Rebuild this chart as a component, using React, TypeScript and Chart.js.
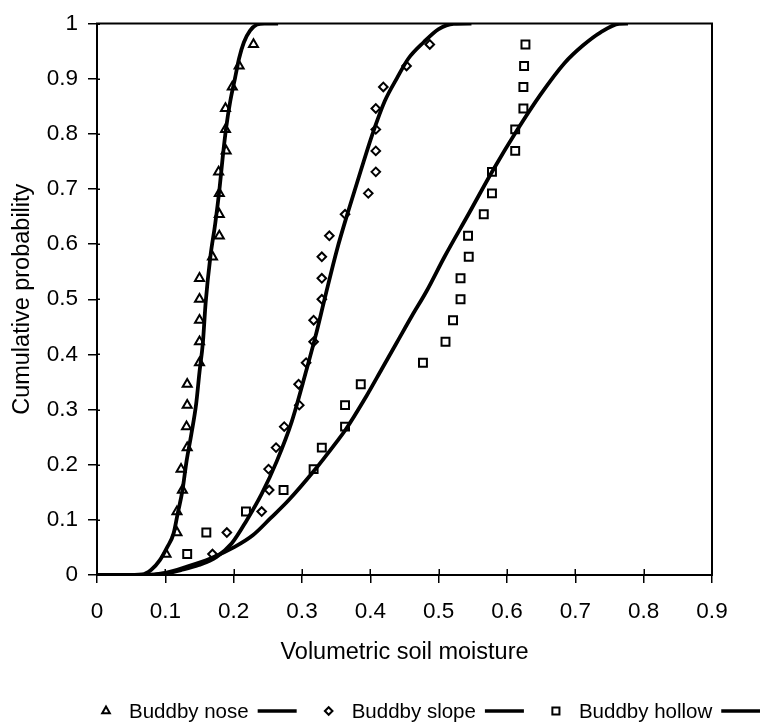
import React, { useEffect, useRef } from 'react';
import { Chart, registerables } from 'chart.js';

Chart.register(...registerables);

const FONT = '"Liberation Sans", Arial, Helvetica, sans-serif';

// ---- axis ticks ----
const xTickValues = [0, 0.1, 0.2, 0.3, 0.4, 0.5, 0.6, 0.7, 0.8, 0.9];
const xTickLabels = ['0', '0.1', '0.2', '0.3', '0.4', '0.5', '0.6', '0.7', '0.8', '0.9'];
const yTickValues = [0, 0.1, 0.2, 0.3, 0.4, 0.5, 0.6, 0.7, 0.8, 0.9, 1];
const yTickLabels = ['0', '0.1', '0.2', '0.3', '0.4', '0.5', '0.6', '0.7', '0.8', '0.9', '1'];

const xTitle = 'Volumetric soil moisture';
const yTitle = 'Cumulative probability';
const seriesNames = ['Buddby nose', 'Buddby slope', 'Buddby hollow'];

// ---- observed points (cumulative probability shared by the three sites) ----
const cumulativeP = [
  0.038, 0.077, 0.115, 0.154, 0.192, 0.231, 0.269, 0.308, 0.346, 0.385, 0.423, 0.462, 0.5,
  0.538, 0.577, 0.615, 0.654, 0.692, 0.731, 0.769, 0.808, 0.846, 0.885, 0.923, 0.962,
];
const noseObs = [
  0.101, 0.117, 0.117, 0.125, 0.123, 0.132, 0.131, 0.132, 0.132, 0.150, 0.150, 0.150, 0.150,
  0.150, 0.169, 0.179, 0.179, 0.179, 0.178, 0.189, 0.188, 0.188, 0.198, 0.208, 0.229,
];
const slopeObs = [
  0.169, 0.190, 0.241, 0.252, 0.251, 0.262, 0.274, 0.296, 0.295, 0.306, 0.317, 0.317, 0.329,
  0.329, 0.329, 0.340, 0.363, 0.397, 0.408, 0.408, 0.408, 0.408, 0.419, 0.453, 0.487,
];
const hollowObs = [
  0.132, 0.160, 0.218, 0.273, 0.317, 0.329, 0.363, 0.363, 0.386, 0.477, 0.510, 0.521, 0.532,
  0.532, 0.544, 0.543, 0.566, 0.578, 0.578, 0.612, 0.612, 0.624, 0.624, 0.625, 0.627,
];

// ---- fitted curves ----
const noseCurveX = [
  0, 0.040, 0.066, 0.079, 0.092, 0.103, 0.112, 0.118, 0.125, 0.131, 0.138, 0.145, 0.150, 0.155,
  0.159, 0.166, 0.173, 0.179, 0.184, 0.189, 0.195, 0.202, 0.208, 0.215, 0.224, 0.234, 0.245, 0.265,
];
const noseCurveP = [
  0, 0, 0.001, 0.009, 0.027, 0.051, 0.075, 0.111, 0.153, 0.206, 0.255, 0.309, 0.368, 0.422,
  0.494, 0.578, 0.637, 0.697, 0.758, 0.811, 0.859, 0.901, 0.937, 0.966, 0.987, 0.998, 1.0, 1.0,
];
const slopeCurveX = [
  0, 0.070, 0.100, 0.123, 0.149, 0.175, 0.197, 0.219, 0.241, 0.263, 0.285, 0.307, 0.320, 0.333,
  0.351, 0.368, 0.386, 0.403, 0.421, 0.439, 0.456, 0.478, 0.500, 0.522, 0.548,
];
const slopeCurveP = [
  0, 0, 0.003, 0.009, 0.018, 0.033, 0.057, 0.099, 0.147, 0.206, 0.278, 0.374, 0.434, 0.500,
  0.589, 0.661, 0.733, 0.799, 0.859, 0.901, 0.937, 0.966, 0.990, 0.9995, 1.0,
];
const hollowCurveX = [
  0, 0.066, 0.100, 0.131, 0.166, 0.2015, 0.228, 0.254, 0.280, 0.317, 0.351, 0.363, 0.395, 0.417,
  0.439, 0.461, 0.482, 0.509, 0.544, 0.579, 0.614, 0.649, 0.684, 0.711, 0.737, 0.764, 0.777,
];
const hollowCurveP = [
  0, 0, 0.004, 0.015, 0.030, 0.051, 0.072, 0.103, 0.135, 0.188, 0.242, 0.262, 0.326, 0.374,
  0.422, 0.470, 0.514, 0.578, 0.655, 0.733, 0.805, 0.871, 0.928, 0.960, 0.984, 0.9995, 1.0,
];

type Marker = 'triangle' | 'rectRot' | 'rect';
const markerStyles: { style: Marker; radius: number; legendRadius: number }[] = [
  { style: 'triangle', radius: 5.2, legendRadius: 4.4 },
  { style: 'rectRot', radius: 4.3, legendRadius: 3.8 },
  { style: 'rect', radius: 5.6, legendRadius: 5.0 },
];

const toPoints = (xs: number[], ys: number[]) => xs.map((x, i) => ({ x, y: ys[i] }));

function drawMarker(ctx: CanvasRenderingContext2D, style: Marker, x: number, y: number, r: number) {
  ctx.beginPath();
  if (style === 'triangle') {
    ctx.moveTo(x, y - r);
    ctx.lineTo(x + 0.866 * r, y + 0.5 * r);
    ctx.lineTo(x - 0.866 * r, y + 0.5 * r);
  } else if (style === 'rectRot') {
    ctx.moveTo(x - r, y);
    ctx.lineTo(x, y - r);
    ctx.lineTo(x + r, y);
    ctx.lineTo(x, y + r);
  } else {
    const s = Math.SQRT1_2 * r;
    ctx.rect(x - s, y - s, 2 * s, 2 * s);
  }
  ctx.closePath();
  ctx.fillStyle = '#fff';
  ctx.fill();
  ctx.lineWidth = 2;
  ctx.strokeStyle = '#000';
  ctx.stroke();
}

const framePlugin = {
  id: 'frameAndInnerTicks',
  afterDraw(chart: any) {
    const { ctx, chartArea } = chart;
    const xs = chart.scales.x;
    const ys = chart.scales.y;
    ctx.save();
    ctx.strokeStyle = '#000';
    ctx.lineWidth = 2;
    ctx.strokeRect(chartArea.left, chartArea.top, chartArea.right - chartArea.left, chartArea.bottom - chartArea.top);
    ctx.lineWidth = 1.5;
    ctx.beginPath();
    xTickValues.forEach((v) => {
      const px = Math.round(xs.getPixelForValue(v)) + 0.25;
      ctx.moveTo(px, chartArea.bottom);
      ctx.lineTo(px, chartArea.bottom - 6);
    });
    yTickValues.forEach((v) => {
      const py = Math.round(ys.getPixelForValue(v)) + 0.25;
      ctx.moveTo(chartArea.left, py);
      ctx.lineTo(chartArea.left + 3, py);
    });
    ctx.stroke();
    ctx.restore();
  },
};

const legendPlugin = {
  id: 'markerTextLineLegend',
  afterDraw(chart: any) {
    const ctx: CanvasRenderingContext2D = chart.ctx;
    ctx.save();
    ctx.font = `20.5px ${FONT}`;
    ctx.textBaseline = 'middle';
    ctx.textAlign = 'left';
    const y = 711;
    let x = 106;
    seriesNames.forEach((name, i) => {
      const m = markerStyles[i];
      drawMarker(ctx, m.style, x, y, m.legendRadius);
      const tx = x + 23;
      ctx.fillStyle = '#000';
      ctx.fillText(name, tx, y + 1);
      const w = ctx.measureText(name).width;
      const l1 = tx + w + 9;
      const l2 = l1 + 39;
      ctx.beginPath();
      ctx.lineWidth = 3.4;
      ctx.strokeStyle = '#000';
      ctx.moveTo(l1, y);
      ctx.lineTo(l2, y);
      ctx.stroke();
      x = l2 + 32;
    });
    ctx.restore();
  },
};

export default function App() {
  const canvasRef = useRef<HTMLCanvasElement>(null);

  useEffect(() => {
    const canvas = canvasRef.current;
    if (!canvas) return;

    const curveDs = (xs: number[], ps: number[], label: string) => ({
      label,
      data: toPoints(xs, ps),
      showLine: true,
      borderColor: '#000',
      borderWidth: 3.8,
      pointRadius: 0,
      pointHoverRadius: 0,
      fill: false,
      cubicInterpolationMode: 'monotone' as const,
    });
    const obsDs = (xs: number[], i: number) => ({
      label: seriesNames[i],
      data: toPoints(xs, cumulativeP),
      showLine: false,
      pointStyle: markerStyles[i].style,
      pointRadius: markerStyles[i].radius,
      pointHoverRadius: markerStyles[i].radius,
      pointBorderWidth: 2,
      pointBackgroundColor: '#fff',
      pointBorderColor: '#000',
      borderColor: '#000',
      backgroundColor: '#fff',
    });

    const chart = new Chart(canvas, {
      type: 'scatter',
      data: {
        datasets: [
          curveDs(noseCurveX, noseCurveP, seriesNames[0] + ' fit'),
          curveDs(slopeCurveX, slopeCurveP, seriesNames[1] + ' fit'),
          curveDs(hollowCurveX, hollowCurveP, seriesNames[2] + ' fit'),
          obsDs(noseObs, 0),
          obsDs(slopeObs, 1),
          obsDs(hollowObs, 2),
        ] as any,
      },
      options: {
        responsive: false,
        animation: false,
        events: [],
        layout: { padding: { left: 0, top: 18, right: 48, bottom: 56 } },
        plugins: {
          legend: { display: false },
          tooltip: { enabled: false },
        },
        scales: {
          x: {
            type: 'linear',
            min: 0,
            max: 0.9,
            afterBuildTicks: (s: any) => {
              s.ticks = xTickValues.map((v) => ({ value: v }));
            },
            afterFit: (s: any) => {
              s.height = 92;
            },
            ticks: {
              autoSkip: false,
              maxRotation: 0,
              color: '#000',
              padding: 15,
              font: { family: FONT, size: 22.5 },
              callback: (_v: any, i: number) => xTickLabels[i],
            },
            grid: { drawOnChartArea: false, tickLength: 8, color: '#000', lineWidth: 1.5 },
            border: { display: false },
            title: {
              display: true,
              text: xTitle,
              color: '#000',
              font: { family: FONT, size: 23.5 },
              padding: { top: 0, bottom: 0 },
            },
          },
          y: {
            type: 'linear',
            min: 0,
            max: 1,
            afterBuildTicks: (s: any) => {
              s.ticks = yTickValues.map((v) => ({ value: v }));
            },
            afterFit: (s: any) => {
              s.width = 97;
            },
            ticks: {
              autoSkip: false,
              color: '#000',
              padding: 10,
              font: { family: FONT, size: 22.5 },
              callback: (_v: any, i: number) => yTickLabels[i],
            },
            grid: { drawOnChartArea: false, tickLength: 9, color: '#000', lineWidth: 1.5 },
            border: { display: false },
            title: {
              display: true,
              text: yTitle,
              color: '#000',
              font: { family: FONT, size: 23.5 },
              padding: { top: 8, bottom: 0 },
            },
          },
        },
      } as any,
      plugins: [framePlugin, legendPlugin],
    });

    return () => {
      chart.destroy();
    };
  }, []);

  return (
    <div style={{ position: 'absolute', left: 0, top: 0, width: 760, height: 723, background: '#fff' }}>
      <canvas ref={canvasRef} width={760} height={723} style={{ display: 'block' }} />
    </div>
  );
}
